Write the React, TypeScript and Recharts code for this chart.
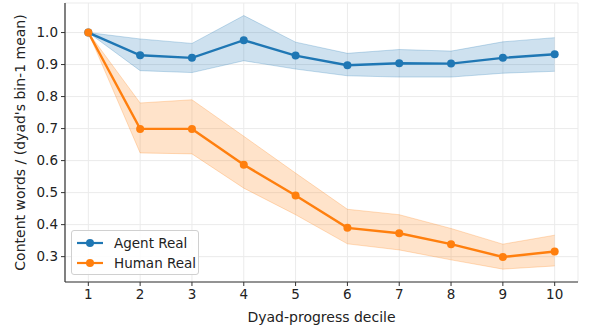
import { ComposedChart, Line, Area, XAxis, YAxis, CartesianGrid, Label } from 'recharts'

const deciles = [1, 2, 3, 4, 5, 6, 7, 8, 9, 10]
const agentMean = [1.0, 0.929, 0.921, 0.976, 0.928, 0.898, 0.904, 0.903, 0.921, 0.932]
const agentLow = [1.0, 0.881, 0.875, 0.912, 0.886, 0.865, 0.861, 0.861, 0.873, 0.879]
const agentHigh = [1.0, 0.98, 0.966, 1.053, 0.97, 0.935, 0.947, 0.942, 0.971, 0.984]
const humanMean = [1.0, 0.699, 0.699, 0.587, 0.491, 0.39, 0.373, 0.339, 0.299, 0.316]
const humanLow = [1.0, 0.624, 0.621, 0.514, 0.431, 0.34, 0.321, 0.29, 0.261, 0.271]
const humanHigh = [1.0, 0.78, 0.79, 0.676, 0.561, 0.448, 0.431, 0.388, 0.339, 0.367]
const yTicks = [0.3, 0.4, 0.5, 0.6, 0.7, 0.8, 0.9, 1.0]

const BLUE = '#1f77b4'
const ORANGE = '#ff7f0e'
const FONT = 'DejaVu Sans, sans-serif'

const rows = deciles.map((d, i) => ({
  decile: d,
  agent: agentMean[i],
  agentBand: [agentLow[i], agentHigh[i]],
  human: humanMean[i],
  humanBand: [humanLow[i], humanHigh[i]],
}))

// drawn over the chart so it doesn't eat plot space
const LegendBox = () => (
  <div
    style={{
      position: 'absolute', left: 71, top: 230, width: 128, height: 45,
      border: '1px solid #d0d0d0', borderRadius: 3,
      background: 'rgba(255,255,255,0.85)', fontFamily: FONT, fontSize: 13.5, color: '#222',
      boxSizing: 'border-box', padding: '2px 0 0 4px',
    }}
  >
    {[{ name: 'Agent Real', c: BLUE }, { name: 'Human Real', c: ORANGE }].map((it) => (
      <div key={it.name} style={{ display: 'flex', alignItems: 'center', height: 20 }}>
        <svg width={28} height={10} style={{ marginRight: 10 }}>
          <line x1={1} y1={5} x2={27} y2={5} stroke={it.c} strokeWidth={2.2} />
          <circle cx={14} cy={5} r={4} fill={it.c} />
        </svg>
        <span>{it.name}</span>
      </div>
    ))}
  </div>
)

export default function App() {
  const tick = { fill: '#222', fontSize: 13.5, fontFamily: FONT }
  return (
    <div style={{ position: 'absolute', left: 0, top: 0, width: 592, height: 329, background: '#fff' }}>
      <ComposedChart width={592} height={329} data={rows} margin={{ top: 3, right: 14, bottom: 0, left: 0 }}>
        <CartesianGrid stroke="#ebebeb" strokeWidth={1} />
        <XAxis
          dataKey="decile"
          type="number"
          domain={[0.55, 10.45]}
          ticks={deciles}
          allowDataOverflow
          tick={tick}
          tickSize={4}
          tickMargin={3}
          height={47}
          axisLine={{ stroke: '#333', strokeWidth: 1.2 }}
          tickLine={{ stroke: '#333' }}
        >
          <Label
            content={(p: any) => (
              <text x={p.viewBox.x + p.viewBox.width / 2} y={p.viewBox.y + 40} textAnchor="middle"
                fontFamily={FONT} fontSize={14} fill="#222">Dyad-progress decile</text>
            )}
          />
        </XAxis>
        <YAxis
          type="number"
          domain={[0.2208, 1.0923]}
          ticks={yTicks}
          allowDataOverflow
          tickFormatter={(v: number) => v.toFixed(1)}
          tick={tick}
          tickSize={4}
          tickMargin={3}
          width={65}
          axisLine={{ stroke: '#333', strokeWidth: 1.2 }}
          tickLine={{ stroke: '#333' }}
        >
          <Label
            content={(p: any) => {
              const cx = 20
              const cy = p.viewBox.y + p.viewBox.height / 2
              return (
                <text x={cx} y={cy} textAnchor="middle" dominantBaseline="central" transform={`rotate(-90 ${cx} ${cy})`}
                  fontFamily={FONT} fontSize={14} fill="#222">Content words / (dyad's bin-1 mean)</text>
              )
            }}
          />
        </YAxis>
        <Area dataKey="agentBand" type="linear" fill={BLUE} fillOpacity={0.22} stroke={BLUE} strokeOpacity={0.25}
          strokeWidth={1} isAnimationActive={false} />
        <Line dataKey="agent" name="Agent Real" type="linear" stroke={BLUE} strokeWidth={2.4}
          dot={{ r: 4, fill: BLUE, stroke: BLUE, strokeWidth: 0 }} activeDot={false} isAnimationActive={false} />
        <Area dataKey="humanBand" type="linear" fill={ORANGE} fillOpacity={0.22} stroke={ORANGE} strokeOpacity={0.25}
          strokeWidth={1} isAnimationActive={false} />
        <Line dataKey="human" name="Human Real" type="linear" stroke={ORANGE} strokeWidth={2.4}
          dot={{ r: 4, fill: ORANGE, stroke: ORANGE, strokeWidth: 0 }} activeDot={false} isAnimationActive={false} />
      </ComposedChart>
      <LegendBox />
    </div>
  )
}
